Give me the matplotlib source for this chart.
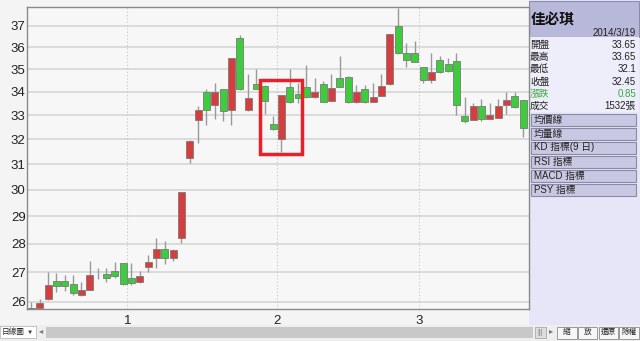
import matplotlib
matplotlib.use("Agg")
import matplotlib.pyplot as plt
from matplotlib.patches import Rectangle
import numpy as np

plt.rcParams['font.family'] = ['Liberation Sans', 'Noto Sans CJK TC', 'DejaVu Sans']

# daily candles, first one is mostly cut off at the left edge
opens  = [25.70, 25.85, 26.10, 26.63, 26.63, 26.59, 26.30, 26.38, 26.92, 26.90,
          27.00, 27.32, 26.76, 26.65, 27.20, 27.50, 27.82, 27.50, 28.20, 31.26,
          32.80, 34.00, 33.42, 34.10, 33.20, 36.40, 33.20, 34.25, 34.25, 32.57,
          32.00, 34.22, 33.92, 34.22, 33.83, 34.35, 33.60, 34.60, 34.67, 33.57,
          34.10, 33.62, 33.83, 34.33, 37.00, 35.75, 35.75, 35.10, 34.52, 35.43,
          35.23, 35.35, 32.97, 32.80, 33.40, 32.84, 32.90, 33.53, 33.83, 33.65]
highs  = [26.00, 26.08, 27.00, 26.98, 26.90, 26.90, 26.68, 27.40, 27.15, 27.13,
          27.35, 27.33, 27.32, 27.05, 27.60, 28.22, 28.10, 27.80, 29.92, 31.95,
          33.38, 34.10, 34.40, 34.14, 35.50, 36.55, 34.80, 35.00, 34.30, 32.95,
          33.86, 35.00, 34.40, 35.20, 34.60, 34.47, 34.80, 35.60, 34.70, 34.30,
          34.30, 34.38, 34.80, 36.60, 37.85, 36.20, 36.30, 35.10, 35.75, 35.60,
          35.50, 35.75, 33.76, 33.52, 33.70, 33.52, 33.70, 34.00, 33.97, 33.65]
lows   = [25.60, 25.80, 26.05, 26.32, 26.35, 26.22, 26.20, 26.38, 26.75, 26.68,
          26.80, 26.55, 26.56, 26.63, 27.02, 27.15, 27.30, 27.38, 28.03, 31.05,
          31.85, 32.60, 32.83, 32.77, 32.60, 34.08, 33.19, 34.20, 33.05, 32.40,
          31.50, 33.50, 33.50, 33.73, 33.72, 33.57, 33.60, 34.20, 33.50, 33.50,
          33.50, 33.60, 33.80, 34.30, 35.70, 35.10, 35.30, 34.38, 34.38, 34.83,
          34.85, 33.00, 32.65, 32.78, 32.77, 32.82, 32.88, 33.05, 33.30, 32.10]
closes = [25.72, 25.90, 26.55, 26.60, 26.61, 26.30, 26.33, 26.90, 26.92, 26.84,
          26.90, 26.58, 26.67, 26.88, 27.35, 27.80, 27.48, 27.78, 29.90, 31.93,
          33.20, 33.20, 34.00, 33.17, 35.50, 34.10, 33.75, 34.22, 33.60, 32.47,
          33.86, 33.55, 33.72, 33.77, 33.92, 33.58, 34.16, 34.22, 33.57, 33.97,
          33.55, 33.72, 34.27, 36.59, 35.75, 35.40, 35.33, 34.52, 34.85, 34.85,
          34.90, 33.42, 32.75, 33.40, 32.84, 33.00, 33.38, 33.56, 33.33, 32.45]

month_first_bar = [12, 30, 47]
month_labels = ['1', '2', '3']
price_ticks = [26, 27, 28, 29, 30, 31, 32, 33, 34, 35, 36, 37]

stock_name = '佳必琪'
quote_date = '2014/3/19'
info_labels = ['開盤', '最高', '最低', '收盤', '漲跌', '成交']
info_values = ['33.65', '33.65', '32.1', '32.45', '0.85', '1532張']
indicator_buttons = ['均價線', '均量線', 'KD 指標(9 日)', 'RSI 指標', 'MACD 指標', 'PSY 指標']
bottom_buttons = ['縮', '放', '還原', '除權']

UP = '#d63d3d'
DOWN = '#3ccc3c'

fig = plt.figure(figsize=(6.4, 3.41), dpi=100, facecolor='#f4f4f4')

# ---- panel / toolbar drawn in pixel coords ----
ui = fig.add_axes([0, 0, 1, 1], zorder=0)
ui.set_xlim(0, 640)
ui.set_ylim(341, 0)
ui.axis('off')

ui.add_patch(Rectangle((529, 0), 111, 325, facecolor='#e6e6f8', edgecolor='none'))
ui.add_patch(Rectangle((529, 1), 110, 36, facecolor='#b8b8da', edgecolor='#8c8cb0', lw=0.8))
ui.add_patch(Rectangle((529, 37), 110, 75, facecolor='#eeeefa', edgecolor='none'))
ui.text(531, 20, stock_name, fontsize=10.5, fontweight='bold', va='center', ha='left', color='#111111')
ui.text(636, 33, quote_date, fontsize=7, va='center', ha='right', color='#222222')
for i, (lab, val) in enumerate(zip(info_labels, info_values)):
    y = 45 + i * 12.2
    col = '#3aa83a' if lab == '漲跌' else '#222222'
    ui.text(530, y, lab, fontsize=7, va='center', ha='left', color=col)
    ui.text(636, y, val, fontsize=7, va='center', ha='right', color=col)
for i, lab in enumerate(indicator_buttons):
    y = 113.5 + i * 14
    ui.add_patch(Rectangle((531, y), 105, 12, facecolor='#c8c8e2', edgecolor='#8a8aa8', lw=0.8))
    ui.text(534, y + 6, lab, fontsize=7, va='center', ha='left', color='#222222')

# bottom bar
ui.add_patch(Rectangle((0, 325), 640, 16, facecolor='#eeeeee', edgecolor='none'))
ui.add_patch(Rectangle((0, 326), 36, 12, facecolor='white', edgecolor='#bbbbbb', lw=0.6))
ui.text(2, 332, '日線圖', fontsize=5.5, va='center', ha='left', color='#222222')
ui.text(30, 332, '▼', fontsize=4.5, va='center', ha='center', color='#333333')
ui.text(41, 332, '◂', fontsize=6, va='center', ha='center', color='#777777')
ui.add_patch(Rectangle((46, 327), 487, 11, facecolor='#c8c8c8', edgecolor='none'))
ui.add_patch(Rectangle((535, 327), 11, 11, facecolor='#dddddd', edgecolor='#aaaaaa', lw=0.6))
ui.text(540.5, 332.5, '|||', fontsize=5, va='center', ha='center', color='#888888')
ui.text(551, 332, '▸', fontsize=6, va='center', ha='center', color='#777777')
for i, lab in enumerate(bottom_buttons):
    x0 = 557 + i * 20.8
    ui.add_patch(Rectangle((x0, 326.5), 19.5, 12, facecolor='#f6f6f6', edgecolor='#999999', lw=0.7))
    ui.text(x0 + 9.75, 332.5, lab, fontsize=5.5, va='center', ha='center', color='#222222')

# ---- candlestick chart ----
ax = fig.add_axes([27 / 640, 32 / 341, 501.7 / 640, 302 / 341], zorder=1)
ax.set_facecolor('#f7f7f7')
ax.set_yscale('log')
ax.set_ylim(25.76, 37.89)
ax.set_xlim(-0.53, 59.68)

for p in price_ticks:
    ax.axhline(p, color='#d6d6d6', lw=1.2, zorder=0)
for m in month_first_bar:
    ax.axvline(m - 0.5, color='#c4c4c4', lw=0.8, ls=(0, (1, 2)), zorder=0)

xs = np.arange(len(opens))
o = np.array(opens)
h = np.array(highs)
l = np.array(lows)
c = np.array(closes)

ax.vlines(xs, l, h, color='#9a9a9a', lw=1, zorder=2)

lo = np.minimum(o, c)
hi = np.maximum(o, c)
mid = np.sqrt(lo * hi)
flat = hi / lo < 1.006
lo = np.where(flat, mid / 1.003, lo)
hi = np.where(flat, mid * 1.003, hi)
colors = [UP if cc > oo else DOWN for oo, cc in zip(o, c)]
body = c != o
ax.bar(xs[body], (hi - lo)[body], bottom=lo[body], width=0.84,
       color=np.array(colors)[body], edgecolor='#7a7a7a', lw=0.6, zorder=3)

# highlight box
ax.add_patch(Rectangle((27.45, 31.4), 5.0, 34.5 - 31.4, fill=False,
                       edgecolor='#e8202a', lw=2.5, zorder=4))

ax.set_yticks(price_ticks)
ax.set_yticklabels([str(p) for p in price_ticks])
ax.yaxis.set_minor_locator(matplotlib.ticker.NullLocator())
ax.set_xticks([m - 0.5 for m in month_first_bar])
ax.set_xticklabels(month_labels)
ax.tick_params(axis='both', length=0, labelsize=9.5, colors='#222222')
ax.tick_params(axis='y', pad=1)
ax.tick_params(axis='x', pad=4)
for s in ax.spines.values():
    s.set_color('#8a8a8a')
    s.set_linewidth(1)

fig.savefig('out.png', dpi=100, facecolor=fig.get_facecolor())
